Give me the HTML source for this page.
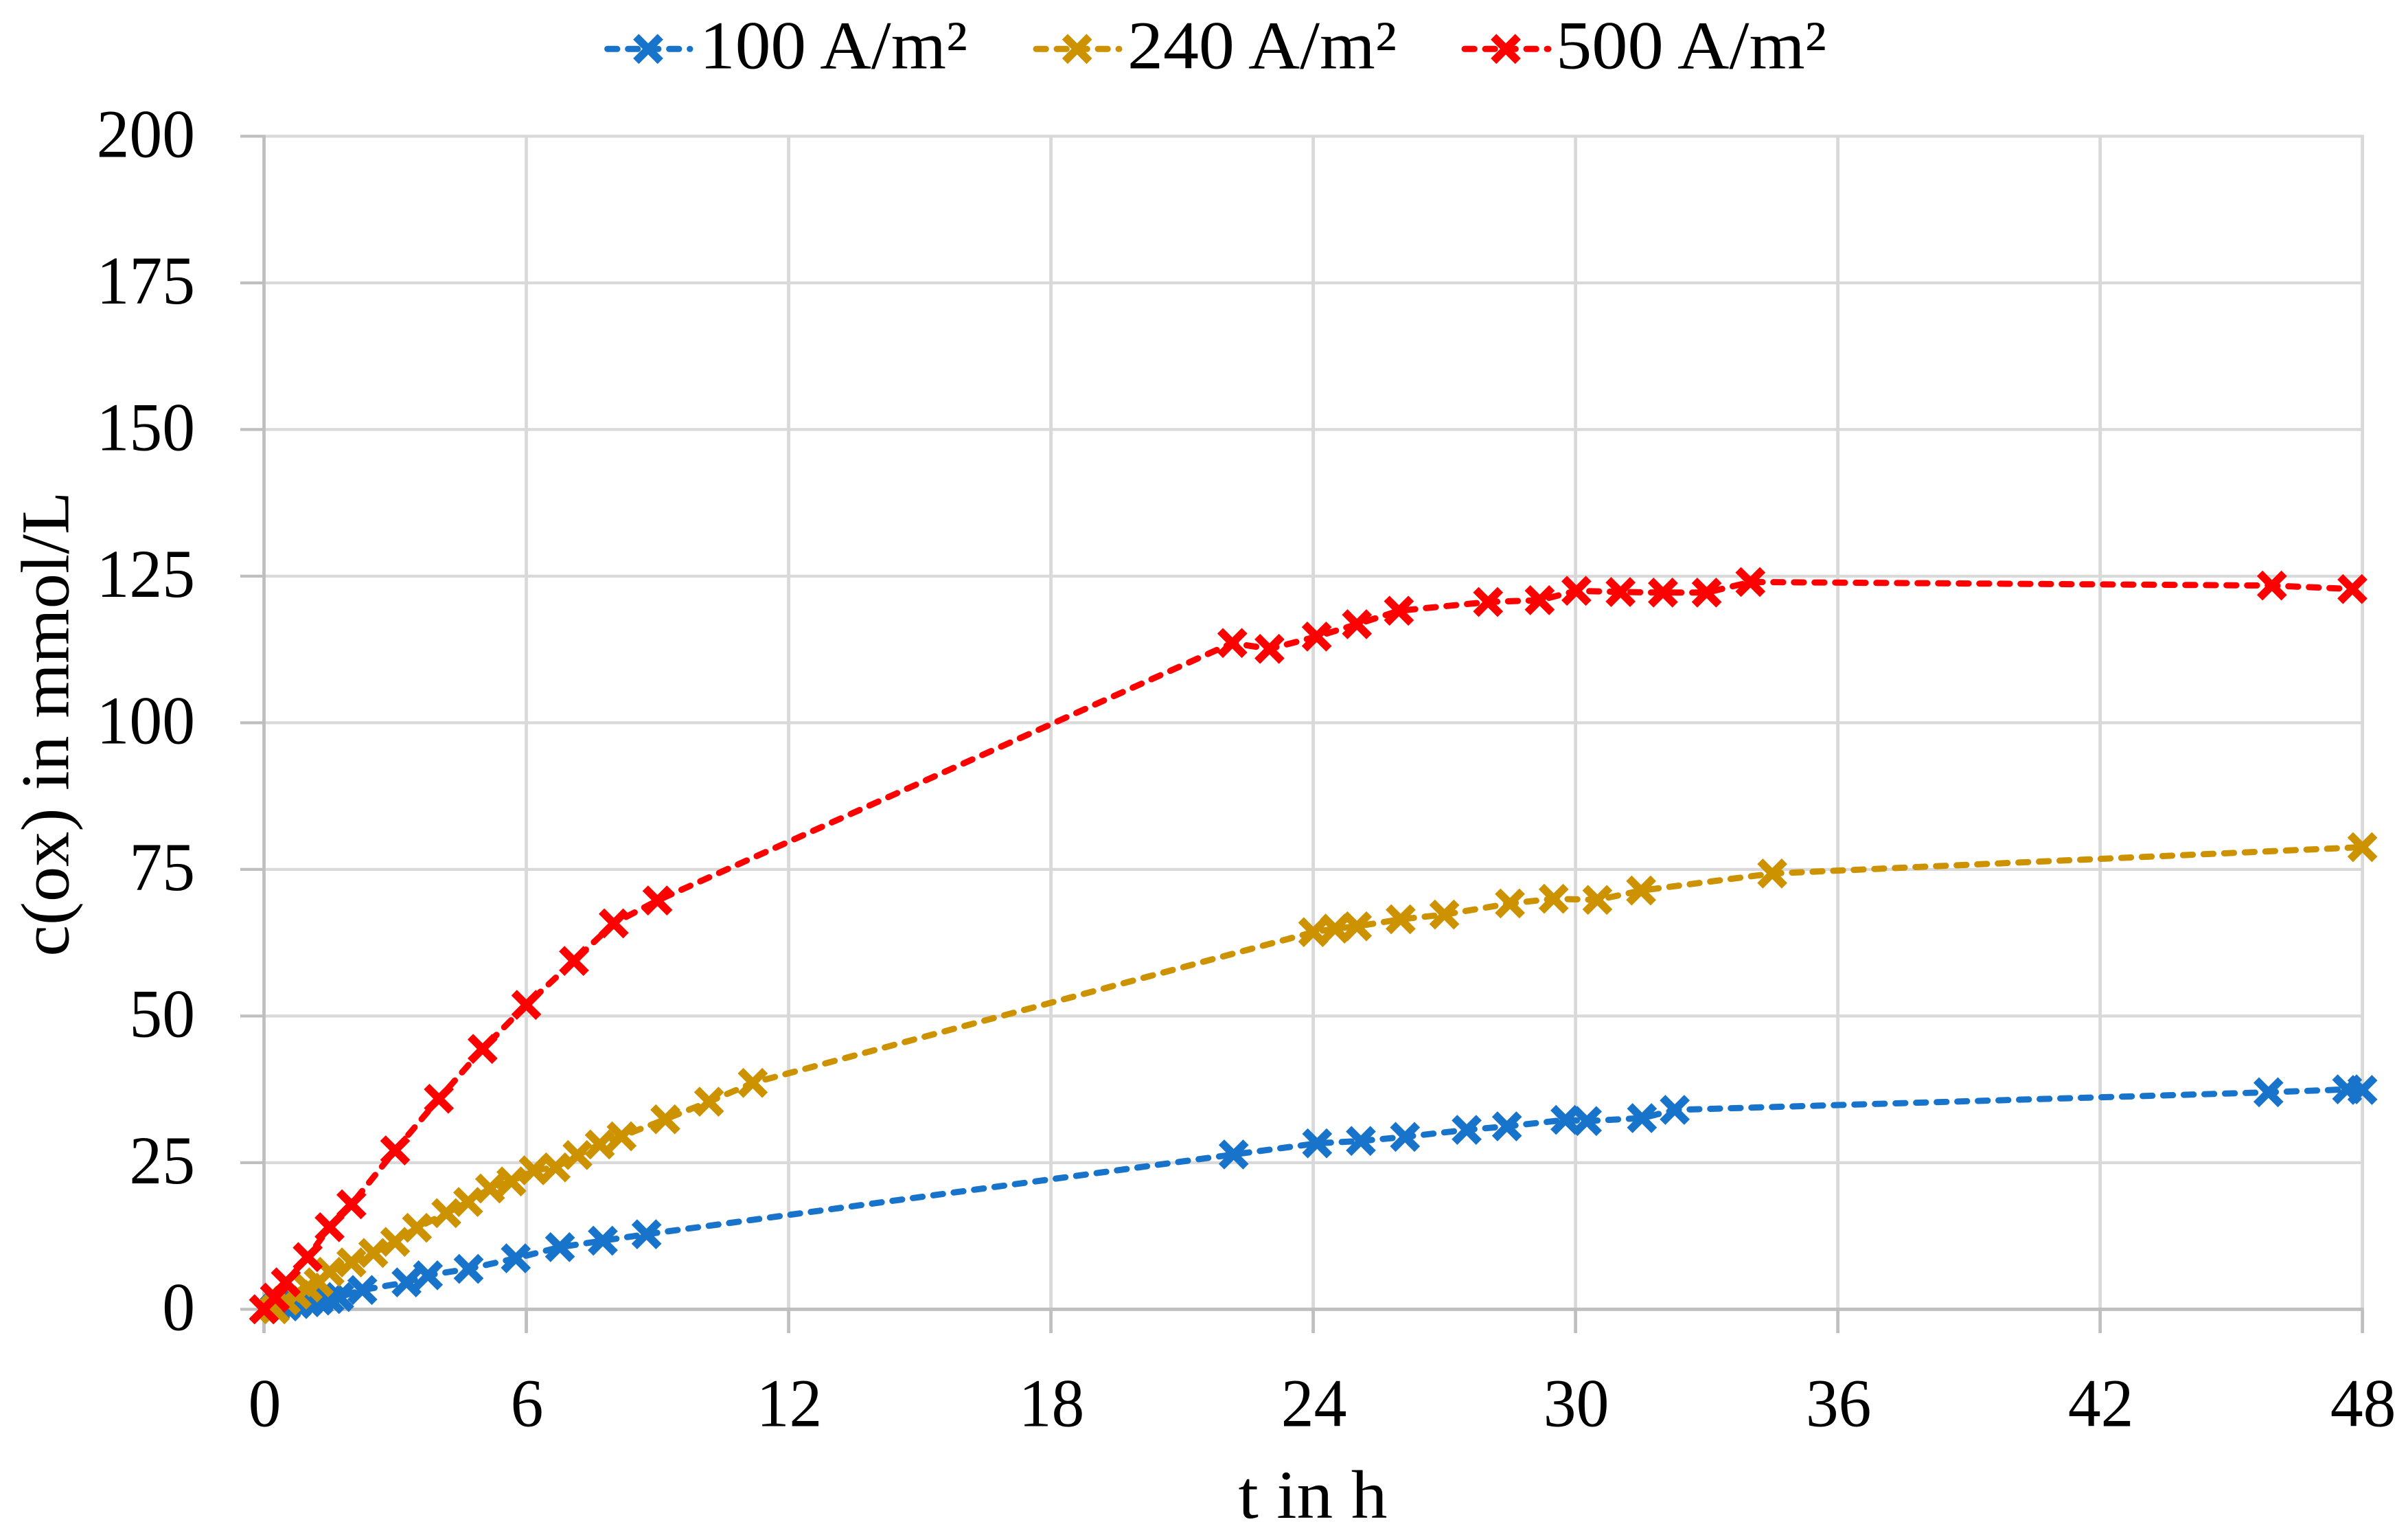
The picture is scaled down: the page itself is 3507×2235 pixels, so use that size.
<!DOCTYPE html>
<html lang="en">
<head>
<meta charset="utf-8">
<title>c(ox) over time</title>
<style>
html,body{margin:0;padding:0;background:#fff;}
svg{display:block;}
text{font-family:"Liberation Serif",serif;fill:#000;font-size:100px;}
</style>
</head>
<body>
<svg id="chart" xmlns="http://www.w3.org/2000/svg" width="3507" height="2235" viewBox="0 0 3507 2235">
  <rect x="0" y="0" width="3507" height="2235" fill="#ffffff"/>
  <g id="grid"></g>
  <g id="axes"></g>
  <g id="xlabels"></g>
  <g id="ylabels"></g>
  <g id="series"></g>
  <text x="1912" y="2210" text-anchor="middle" textLength="217" lengthAdjust="spacingAndGlyphs">t in h</text>
  <text transform="translate(99.3,1392.6) rotate(-90)" x="0" y="0" textLength="677" lengthAdjust="spacingAndGlyphs">c(ox) in mmol/L</text>
  <g id="legend">
    <text x="1019" y="99.3" textLength="390" lengthAdjust="spacingAndGlyphs">100 A/m²</text>
    <text x="1642" y="99.3" textLength="392" lengthAdjust="spacingAndGlyphs">240 A/m²</text>
    <text x="2266" y="99.3" textLength="394" lengthAdjust="spacingAndGlyphs">500 A/m²</text>
  </g>
</svg>
<script>
const xTicks = [0, 6, 12, 18, 24, 30, 36, 42, 48];
const yTicks = [0, 25, 50, 75, 100, 125, 150, 175, 200];

const seriesNames = ['100 A/m²', '240 A/m²', '500 A/m²'];

const time100 = [0, 0.25, 0.5, 0.75, 1, 1.25, 1.5, 1.72, 2.25, 3.26, 3.75, 4.68, 5.76, 6.77, 7.75, 8.75, 22.18, 24.09, 25.09, 26.1, 27.51, 28.43, 29.77, 30.26, 31.52, 32.27, 45.85, 47.65, 48];
const conc100 = [0, 0.2, 0.5, 0.9, 1.2, 1.5, 1.75, 2.1, 3.3, 4.6, 5.8, 6.9, 8.7, 10.6, 11.7, 12.8, 26.4, 28.3, 28.7, 29.4, 30.6, 31.2, 32.3, 32.1, 32.6, 34.0, 37.0, 37.5, 37.4];

const time240 = [0, 0.25, 0.5, 0.75, 1, 1.25, 1.5, 2, 2.5, 3, 3.5, 4.17, 4.67, 5.17, 5.66, 6.17, 6.67, 7.17, 7.68, 8.18, 9.18, 10.18, 11.18, 24, 24.5, 25, 26, 27, 28.5, 29.5, 30.5, 31.5, 34.5, 48];
const conc240 = [0, 0, 1.5, 2.5, 3.7, 4.6, 6.4, 8.0, 9.6, 11.5, 13.9, 16.4, 18.3, 20.6, 21.8, 23.7, 24.2, 26.3, 28.1, 29.5, 32.4, 35.4, 38.6, 64.3, 64.9, 65.3, 66.5, 67.3, 69.2, 70.0, 69.8, 71.4, 74.3, 78.8];

const time500 = [0, 0.25, 0.5, 1, 1.5, 2, 3, 4, 5, 6, 7.09, 8, 9, 22.15, 23, 24.08, 25, 25.96, 28, 29.18, 30.02, 31.03, 32, 33, 34, 45.93, 47.77];
const conc500 = [0, 2.0, 4.6, 8.9, 14, 17.9, 27.1, 35.9, 44.4, 51.9, 59.4, 65.8, 69.7, 113.6, 112.6, 114.7, 116.8, 119.1, 120.6, 120.9, 122.5, 122.3, 122.2, 122.2, 124.0, 123.4, 122.8];

const NS = 'http://www.w3.org/2000/svg';
const PLOT = { left: 384.5, pxPerHour: 63.67, bottom: 1906.4, pxPerUnit: 8.54 };
const xScale = function (t) { return PLOT.left + t * PLOT.pxPerHour; };
const yScale = function (v) { return PLOT.bottom - v * PLOT.pxPerUnit; };

function make(tag, attrs, parent) {
  const el = document.createElementNS(NS, tag);
  for (const k in attrs) el.setAttribute(k, attrs[k]);
  parent.appendChild(el);
  return el;
}

const gridG = document.getElementById('grid');
const axesG = document.getElementById('axes');
const xLabG = document.getElementById('xlabels');
const yLabG = document.getElementById('ylabels');
const seriesG = document.getElementById('series');
const legendG = document.getElementById('legend');

const xMax = xTicks[xTicks.length - 1];
const yMax = yTicks[yTicks.length - 1];

yTicks.forEach(function (v) {
  const y = yScale(v);
  if (v !== 0) {
    const g = make('line', { x1: xScale(0), x2: xScale(xMax), y1: y, y2: y, stroke: '#d9d9d9', 'stroke-width': 4.2 }, gridG);
    
    
  }
  const tick = make('line', { x1: 350, x2: xScale(0), y1: y, y2: y, stroke: '#bfbfbf', 'stroke-width': 4.2 }, axesG);
  
  
  const label = make('text', { x: 284, y: y + 30, 'text-anchor': 'end', textLength: String(v).length * 47.8, lengthAdjust: 'spacingAndGlyphs' }, yLabG);
  label.textContent = String(v);
  
  
});

xTicks.forEach(function (t) {
  const x = xScale(t);
  if (t !== 0) {
    const g = make('line', { x1: x, x2: x, y1: yScale(yMax) - 2, y2: yScale(0), stroke: '#d9d9d9', 'stroke-width': 4.8 }, gridG);
    
    
  }
  const tick = make('line', { x1: x, x2: x, y1: yScale(0), y2: 1941, stroke: '#bfbfbf', 'stroke-width': 4.8 }, axesG);
  
  
  const label = make('text', { x: x + 1, y: 2076.4, 'text-anchor': 'middle', textLength: String(t).length * 47.8, lengthAdjust: 'spacingAndGlyphs' }, xLabG);
  label.textContent = String(t);
  
  
});

const yAxisLine = make('line', { x1: xScale(0), x2: xScale(0), y1: yScale(yMax) - 2, y2: 1941, stroke: '#bfbfbf', 'stroke-width': 4.8 }, axesG);


const xAxisLine = make('line', { x1: xScale(0) - 2, x2: xScale(xMax) + 2, y1: yScale(0), y2: yScale(0), stroke: '#bfbfbf', 'stroke-width': 5 }, axesG);



function crossPath(x, y) {
  const a = 17.8;
  return 'M' + (x - a) + ' ' + (y - a) + 'L' + (x + a) + ' ' + (y + a) +
         'M' + (x - a) + ' ' + (y + a) + 'L' + (x + a) + ' ' + (y - a);
}

function drawSeries(times, values, color, key) {
  const group = make('g', {}, seriesG);
  
  
  const pts = times.map(function (t, i) { return xScale(t) + ',' + yScale(values[i]); }).join(' ');
  const line = make('polyline', { points: pts, fill: 'none', stroke: color, 'stroke-width': 9, 'stroke-linecap': 'round', 'stroke-linejoin': 'round', 'stroke-dasharray': '14.3 15.7' }, group);
  
  
  times.forEach(function (t, i) {
    const m = make('path', { d: crossPath(xScale(t), yScale(values[i])), fill: 'none', stroke: color, 'stroke-width': 11.5 }, group);
    
    
  });
}

drawSeries(time100, conc100, '#1873cb', '100');
drawSeries(time240, conc240, '#cc9200', '240');
drawSeries(time500, conc500, '#ff0000', '500');

function drawLegendKey(x1, x2, cx, color, key) {
  const cy = 71.3;
  const l = make('line', { x1: x1 + 5, x2: x2 - 4, y1: cy, y2: cy, stroke: color, 'stroke-width': 9, 'stroke-linecap': 'round', 'stroke-dasharray': '14.3 15.7' }, legendG);
  
  
  const m = make('path', { d: crossPath(cx, cy), fill: 'none', stroke: color, 'stroke-width': 11.5 }, legendG);
  
  
}
drawLegendKey(879.6, 1009, 944, '#1873cb', '100');
drawLegendKey(1504, 1634, 1568.7, '#cc9200', '240');
drawLegendKey(2128, 2259, 2193, '#ff0000', '500');
</script>
</body>
</html>
